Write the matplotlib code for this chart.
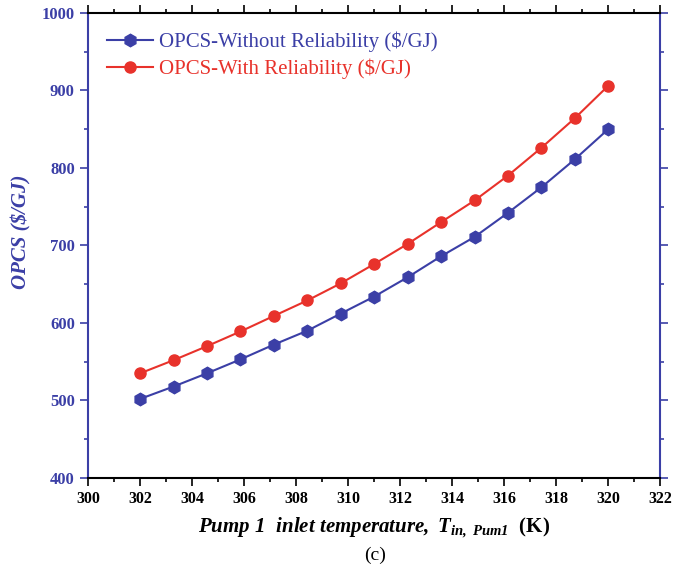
import matplotlib
matplotlib.use('Agg')
import matplotlib.pyplot as plt
from matplotlib.ticker import MultipleLocator

# data
temp_k = [302.0, 303.29, 304.57, 305.86, 307.14, 308.43, 309.71, 311.0,
          312.29, 313.57, 314.86, 316.14, 317.43, 318.71, 320.0]
opcs_without = [502, 518, 535, 553, 572, 590, 612, 634, 659, 686, 711, 742, 775, 811, 850]
opcs_with = [535, 552, 570, 589, 609, 629, 651, 676, 702, 730, 758, 790, 826, 864, 906]

BLUE = '#3b3fa6'
RED = '#e8322b'

plt.rcParams['font.family'] = 'Liberation Serif'
plt.rcParams['mathtext.fontset'] = 'custom'
plt.rcParams['mathtext.it'] = 'Liberation Serif:italic:bold'
plt.rcParams['mathtext.rm'] = 'Liberation Serif:italic:bold'

fig = plt.figure(figsize=(6.74, 5.77), dpi=100)
ax = fig.add_axes([0.1306, 0.1716, 0.849, 0.806])

ax.plot(temp_k, opcs_without, '-h', color=BLUE, lw=1.5, ms=9,
        label='OPCS-Without Reliability ($/GJ)')
ax.plot(temp_k, opcs_with, '-o', color=RED, lw=1.5, ms=8,
        label='OPCS-With Reliability ($/GJ)')

ax.set_xlim(300, 322)
ax.set_ylim(400, 1000)
ax.xaxis.set_major_locator(MultipleLocator(2))
ax.xaxis.set_minor_locator(MultipleLocator(1))
ax.yaxis.set_major_locator(MultipleLocator(100))
ax.yaxis.set_minor_locator(MultipleLocator(50))

ax.tick_params(axis='both', which='both', direction='out', top=True, right=True)
ax.tick_params(which='major', length=6, width=1.2)
ax.tick_params(which='minor', length=3, width=1.2)
ax.tick_params(axis='y', which='both', colors=BLUE, labelsize=12)
ax.tick_params(axis='x', which='both', colors='black', labelsize=11.5)
for lbl in ax.get_xticklabels() + ax.get_yticklabels():
    lbl.set_fontweight('bold')

ax.spines['left'].set_color(BLUE)
ax.spines['right'].set_color(BLUE)
for s in ax.spines.values():
    s.set_linewidth(1.5)

ax.set_ylabel('OPCS ($/GJ)', color=BLUE, fontsize=15, fontstyle='italic',
              fontweight='bold', labelpad=8)
ax.yaxis.set_label_coords(-0.098, 0.53)
ax.set_xlabel(r'$Pump\ 1\ \ inlet\ temperature,\ T_{in,\ Pum1}$  (K)',
              fontsize=15, fontweight='bold', labelpad=6)
fig.text(0.556, 0.03, '(c)', ha='center', fontsize=14)

leg = ax.legend(loc='upper left', frameon=False, fontsize=15, handlelength=2.2,
                handletextpad=0.3, borderaxespad=0.5, labelspacing=0.3)
for txt, c in zip(leg.get_texts(), [BLUE, RED]):
    txt.set_color(c)

fig.savefig('out.png', dpi=100)
